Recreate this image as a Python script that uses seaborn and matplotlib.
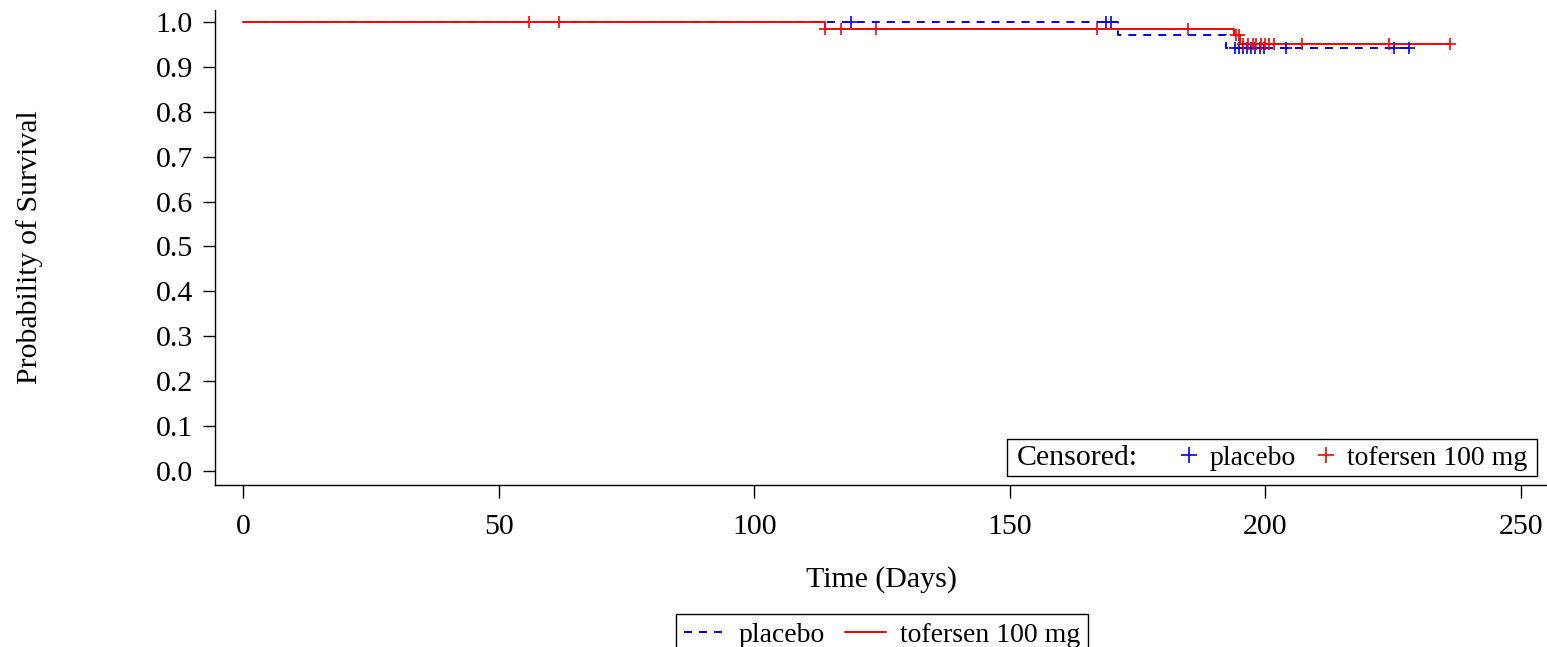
import numpy as np
import pandas as pd
import matplotlib
matplotlib.use("Agg")
import matplotlib.pyplot as plt
import seaborn as sns
from matplotlib.lines import Line2D
from matplotlib.offsetbox import AnchoredOffsetbox, HPacker, TextArea, DrawingArea

# ---------------- data ----------------
groups = ["placebo", "tofersen 100 mg"]

# Kaplan-Meier step curves (time in days, survival probability)
placebo_time = [0.0, 171.2, 192.3, 228.0]
placebo_surv = [1.000, 0.971, 0.941, 0.941]
tofersen_time = [0.0, 113.9, 193.8, 195.0, 236.1]
tofersen_surv = [1.000, 0.985, 0.970, 0.951, 0.951]

# censored observations
placebo_cens_time = [118.9, 168.8, 169.8,
                     194.0, 194.8, 195.6, 196.4, 197.2, 198.0, 198.9, 199.7,
                     204.0, 225.2, 228.0]
placebo_cens_surv = [1.000, 1.000, 1.000,
                     0.941, 0.941, 0.941, 0.941, 0.941, 0.941, 0.941, 0.941,
                     0.941, 0.941, 0.941]
tofersen_cens_time = [55.9, 61.9,
                      113.9, 116.9, 123.9, 167.0, 184.9,
                      194.2, 194.8,
                      195.7, 196.6, 197.5, 198.2, 199.1, 199.9, 200.8, 201.6,
                      207.1, 224.2, 236.1]
tofersen_cens_surv = [1.000, 1.000,
                      0.985, 0.985, 0.985, 0.985, 0.985,
                      0.970, 0.970,
                      0.951, 0.951, 0.951, 0.951, 0.951, 0.951, 0.951, 0.951,
                      0.951, 0.951, 0.951]

x_ticks = [0, 50, 100, 150, 200, 250]
y_ticks = [0.0, 0.1, 0.2, 0.3, 0.4, 0.5, 0.6, 0.7, 0.8, 0.9, 1.0]
x_label = "Time (Days)"
y_label = "Probability of Survival"
colors = {"placebo": "blue", "tofersen 100 mg": "red"}

# ---------------- style ----------------
sns.set_theme(style="ticks")
FONT = ["Liberation Serif", "DejaVu Serif"]
plt.rcParams["font.family"] = FONT
plt.rcParams["axes.edgecolor"] = "black"
plt.rcParams["axes.linewidth"] = 1.0
plt.rcParams["xtick.color"] = "black"
plt.rcParams["ytick.color"] = "black"
FS = 21.5
FS_LEG = 20.0

fig = plt.figure(figsize=(15.47, 6.47), dpi=100)
ax = fig.add_axes([215 / 1547, 1 - 485 / 647, 1332 / 1547, 475 / 647])

curves = pd.concat([
    pd.DataFrame({"time": placebo_time, "surv": placebo_surv, "group": groups[0]}),
    pd.DataFrame({"time": tofersen_time, "surv": tofersen_surv, "group": groups[1]}),
])
cens = pd.concat([
    pd.DataFrame({"time": placebo_cens_time, "surv": placebo_cens_surv, "group": groups[0]}),
    pd.DataFrame({"time": tofersen_cens_time, "surv": tofersen_cens_surv, "group": groups[1]}),
])

LW = 1.4
DASH = (0, (4.1, 3.6))
sns.lineplot(data=curves[curves.group == groups[0]], x="time", y="surv",
             drawstyle="steps-post", estimator=None, sort=False,
             color=colors[groups[0]], lw=LW, linestyle=DASH, ax=ax, legend=False)
sns.lineplot(data=curves[curves.group == groups[1]], x="time", y="surv",
             drawstyle="steps-post", estimator=None, sort=False,
             color=colors[groups[1]], lw=LW, ax=ax, legend=False)
for g in groups:
    sns.scatterplot(data=cens[cens.group == g], x="time", y="surv", marker="+",
                    s=9.0 ** 2, linewidth=1.2, color=colors[g], ax=ax,
                    legend=False, zorder=3)

ax.set_xlim(-5.477, 255.09)
ax.set_ylim(-0.0312, 1.0267)
ax.set_xticks(x_ticks)
ax.set_xticklabels([str(t) for t in x_ticks])
ax.set_yticks(y_ticks)
ax.set_yticklabels([f"{t:.1f}" for t in y_ticks])
ax.tick_params(axis="both", length=9, width=1.0, labelsize=FS, color="black",
               labelcolor="black")
ax.tick_params(axis="x", pad=12)
ax.tick_params(axis="y", pad=7)
for sp in ["top", "right"]:
    ax.spines[sp].set_visible(False)
ax.set_facecolor("white")

ax.set_xlabel(x_label, fontsize=FS, color="black")
ax.set_ylabel(y_label, fontsize=FS, color="black")
ax.xaxis.set_label_coords(0.5, -0.171)
ax.yaxis.set_label_coords(-0.129, 0.5)

# ---------------- censored legend (inside) ----------------
PX = 72 / 100.0  # pixels -> points
tp = dict(fontsize=FS, family=FONT, color="black")
tpl = dict(fontsize=FS_LEG, family=FONT, color="black")


def spacer(width_px):
    return DrawingArea(width_px * PX, 1, 0, 0)


def plus_area(width_px, center_px, color):
    da = DrawingArea(width_px * PX, 14, 0, 0)
    da.add_artist(Line2D([center_px * PX], [7.0], marker="+", markersize=11,
                         mew=1.2, color=color, linestyle="none"))
    return da


hp = HPacker(children=[
    spacer(5),
    TextArea("Censored:", textprops=tp),
    plus_area(71, 51, colors[groups[0]]),
    TextArea(groups[0], textprops=tpl),
    plus_area(52, 31, colors[groups[1]]),
    TextArea(groups[1], textprops=tpl),
    spacer(4),
], align="baseline", pad=0, sep=0)
box = AnchoredOffsetbox(loc="lower right", child=hp, pad=0.18, borderpad=0,
                        frameon=True, prop=dict(size=FS),
                        bbox_to_anchor=((1537 - 215) / 1332, (485 - 476) / 475),
                        bbox_transform=ax.transAxes)
box.patch.set_edgecolor("black")
box.patch.set_facecolor("white")
box.patch.set_linewidth(1.0)
ax.add_artist(box)

# ---------------- group legend (bottom) ----------------
handles = [Line2D([], [], color=colors[groups[0]], lw=LW, linestyle=DASH),
           Line2D([], [], color=colors[groups[1]], lw=LW)]
leg = fig.legend(handles, groups, loc="upper center", ncol=2,
                 bbox_to_anchor=(882 / 1547, 1 - 614 / 647),
                 bbox_transform=fig.transFigure, fontsize=FS_LEG,
                 frameon=True, fancybox=False, shadow=False, framealpha=1,
                 handlelength=1.45, handletextpad=0.5, columnspacing=0.75,
                 borderpad=0.3, borderaxespad=0)
leg.get_frame().set_edgecolor("black")
leg.get_frame().set_linewidth(1.0)
for t in leg.get_texts():
    t.set_color("black")

fig.savefig("out.png", dpi=100, facecolor="white")
